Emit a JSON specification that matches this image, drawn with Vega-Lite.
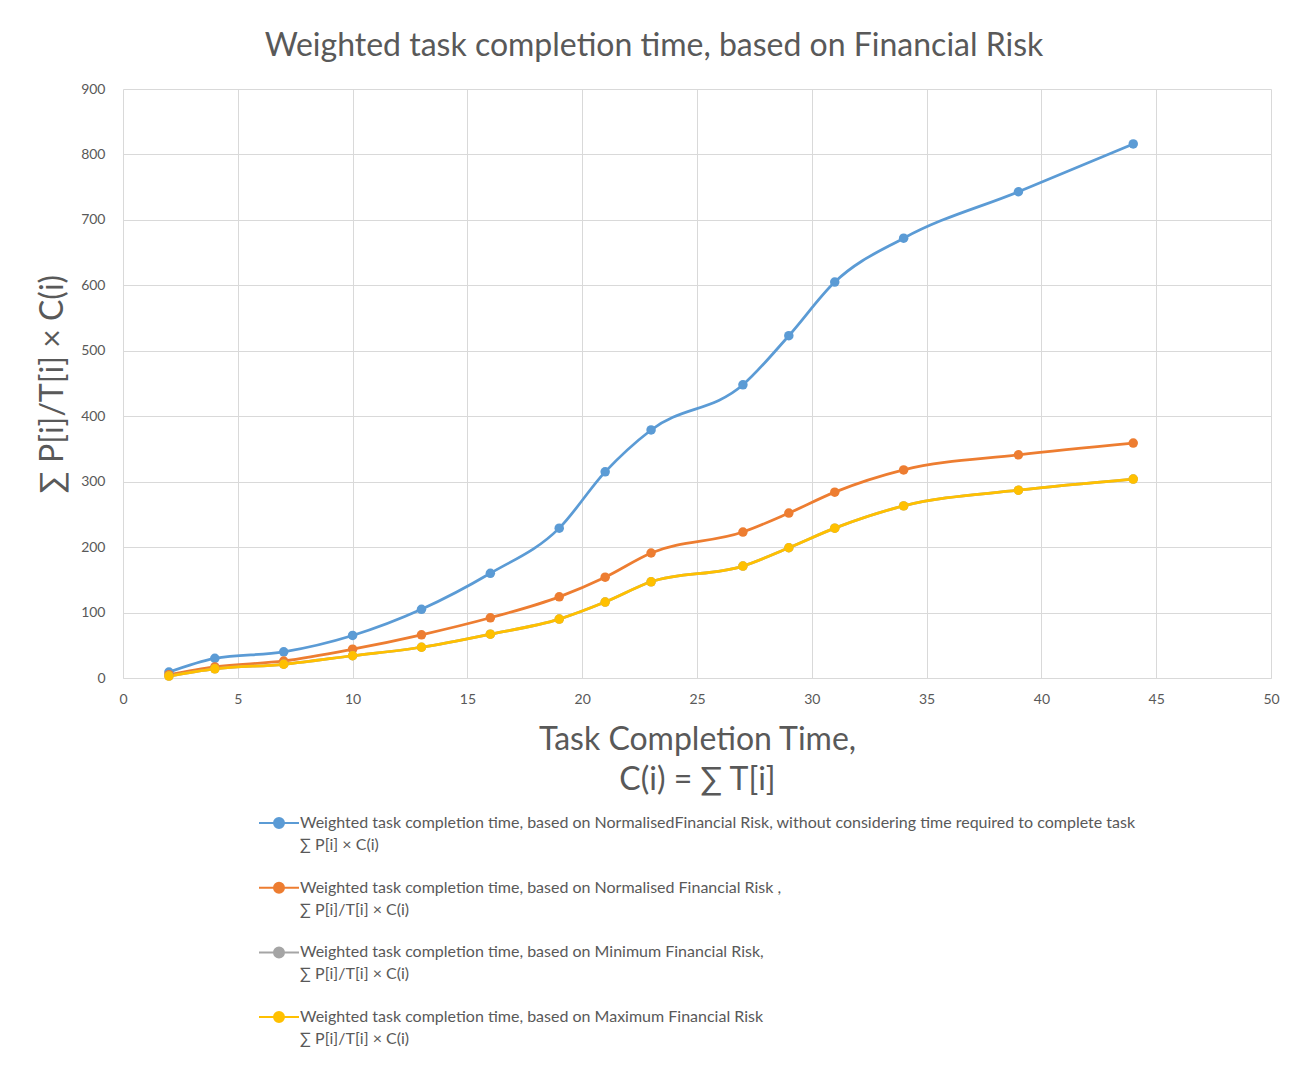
{
  "$schema": "https://vega.github.io/schema/vega-lite/v6.json",
  "width": 1148,
  "height": 589,
  "autosize": "none",
  "padding": {"left": 123, "top": 89, "right": 35, "bottom": 406},
  "background": "white",
  "config": {
    "font": "Lato",
    "view": {"stroke": null},
    "style": {"guide-label": {"lineHeight": 22}},
    "axis": {"labelColor": "#595959", "titleColor": "#595959", "gridColor": "#D9D9D9", "domainColor": "#D9D9D9", "ticks": false, "labelFont": "Lato", "titleFont": "Lato", "titleFontWeight": "normal", "labelFlush": false}
  },
  "title": {"text": "Weighted task completion time, based on Financial Risk", "fontSize": 32, "font": "Lato", "fontWeight": "normal", "color": "#595959", "anchor": "middle", "dx": -43, "offset": 19},
  "data": {"values": [
    {"series": "A", "x": 2, "y": 9}, {"series": "A", "x": 4, "y": 30}, {"series": "A", "x": 7, "y": 40}, {"series": "A", "x": 10, "y": 65}, {"series": "A", "x": 13, "y": 105}, {"series": "A", "x": 16, "y": 160}, {"series": "A", "x": 19, "y": 229}, {"series": "A", "x": 21, "y": 315}, {"series": "A", "x": 23, "y": 379}, {"series": "A", "x": 27, "y": 448}, {"series": "A", "x": 29, "y": 523}, {"series": "A", "x": 31, "y": 605}, {"series": "A", "x": 34, "y": 672}, {"series": "A", "x": 39, "y": 743}, {"series": "A", "x": 44, "y": 816},
    {"series": "B", "x": 2, "y": 5}, {"series": "B", "x": 4, "y": 17}, {"series": "B", "x": 7, "y": 26}, {"series": "B", "x": 10, "y": 44}, {"series": "B", "x": 13, "y": 66}, {"series": "B", "x": 16, "y": 92}, {"series": "B", "x": 19, "y": 124}, {"series": "B", "x": 21, "y": 154}, {"series": "B", "x": 23, "y": 191}, {"series": "B", "x": 27, "y": 223}, {"series": "B", "x": 29, "y": 252}, {"series": "B", "x": 31, "y": 284}, {"series": "B", "x": 34, "y": 318}, {"series": "B", "x": 39, "y": 341}, {"series": "B", "x": 44, "y": 359},
    {"series": "C", "x": 2, "y": 3}, {"series": "C", "x": 4, "y": 14}, {"series": "C", "x": 7, "y": 21}, {"series": "C", "x": 10, "y": 34}, {"series": "C", "x": 13, "y": 47}, {"series": "C", "x": 16, "y": 67}, {"series": "C", "x": 19, "y": 90}, {"series": "C", "x": 21, "y": 116}, {"series": "C", "x": 23, "y": 147}, {"series": "C", "x": 27, "y": 171}, {"series": "C", "x": 29, "y": 199}, {"series": "C", "x": 31, "y": 229}, {"series": "C", "x": 34, "y": 263}, {"series": "C", "x": 39, "y": 287}, {"series": "C", "x": 44, "y": 304},
    {"series": "D", "x": 2, "y": 3}, {"series": "D", "x": 4, "y": 14}, {"series": "D", "x": 7, "y": 21}, {"series": "D", "x": 10, "y": 34}, {"series": "D", "x": 13, "y": 47}, {"series": "D", "x": 16, "y": 67}, {"series": "D", "x": 19, "y": 90}, {"series": "D", "x": 21, "y": 116}, {"series": "D", "x": 23, "y": 147}, {"series": "D", "x": 27, "y": 171}, {"series": "D", "x": 29, "y": 199}, {"series": "D", "x": 31, "y": 229}, {"series": "D", "x": 34, "y": 263}, {"series": "D", "x": 39, "y": 287}, {"series": "D", "x": 44, "y": 304}
  ]},
  "mark": {"type": "line", "interpolate": "monotone", "strokeWidth": 2.75, "point": {"filled": true, "size": 90, "opacity": 1}},
  "encoding": {
    "x": {"field": "x", "type": "quantitative", "scale": {"domain": [0, 50], "nice": false, "zero": true},
      "axis": {"values": [0, 5, 10, 15, 20, 25, 30, 35, 40, 45, 50], "labelFontSize": 14, "labelPadding": 14, "grid": true, "title": ["Task Completion Time,", "C(i) = ∑ T[i]"], "titleFontSize": 32, "titlePadding": 18, "titleLineHeight": 40}},
    "y": {"field": "y", "type": "quantitative", "scale": {"domain": [0, 900], "nice": false},
      "axis": {"values": [0, 100, 200, 300, 400, 500, 600, 700, 800, 900], "labelFontSize": 14, "labelPadding": 18, "grid": true, "domain": false, "title": "∑ P[i]/T[i] × C(i)", "titleFontSize": 32, "titlePadding": 11}},
    "color": {"field": "series", "type": "nominal",
      "scale": {"domain": ["A", "B", "C", "D"], "range": ["#5B9BD5", "#ED7D31", "#A5A5A5", "#FFC000"]},
      "legend": {
        "title": null, "orient": "none", "legendX": 135, "legendY": 713, "direction": "vertical", "columns": 1,
        "symbolType": "M-1,0L1,0M-0.25,0A0.25,0.25 0 1,0 0.25,0A0.25,0.25 0 1,0 -0.25,0Z",
        "symbolSize": 1600, "symbolStrokeWidth": 2, "symbolFillColor": null,
        "labelFontSize": 16, "labelColor": "#595959", "labelFont": "Lato", "labelLimit": 1000, "labelOffset": 0, "rowPadding": 13.7,
        "labelExpr": "datum.label == 'A' ? ['Weighted task completion time, based on NormalisedFinancial Risk, without considering time required to complete task', ' ∑ P[i] × C(i)'] : datum.label == 'B' ? ['Weighted task completion time, based on Normalised Financial Risk ,', ' ∑ P[i]/T[i] × C(i)'] : datum.label == 'C' ? ['Weighted task completion time, based on Minimum Financial Risk,', ' ∑ P[i]/T[i] × C(i)'] : ['Weighted task completion time, based on Maximum Financial Risk', ' ∑ P[i]/T[i] × C(i)']"
      }}
  }
}
